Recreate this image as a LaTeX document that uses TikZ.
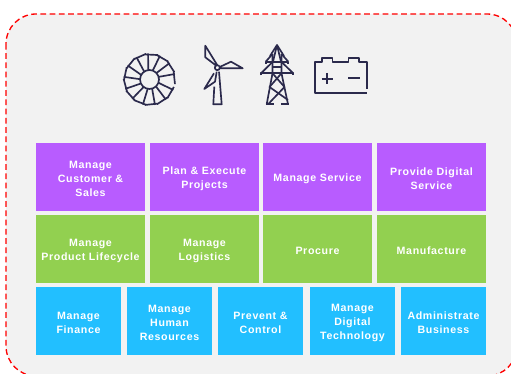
\documentclass[tikz,border=0pt]{standalone}
\usepackage{fontspec}
\setmainfont{Liberation Sans}[LetterSpace=6]
\usepackage{tikz}
\definecolor{panelgray}{HTML}{F2F2F2}
\definecolor{iconnavy}{HTML}{2B2A4C}
\definecolor{purplebox}{HTML}{B85CFF}
\definecolor{greenbox}{HTML}{92D050}
\definecolor{bluebox}{HTML}{22BFFF}
\tikzset{
  captext/.style={text=white,font=\fontsize{6.05}{7.8}\selectfont\bfseries,align=center,inner sep=0pt,yshift=-1.1pt},
  capability/.style={inner sep=0pt,minimum height=1.36cm,label={[captext]center:{#1}}},
  widebox/.style={capability={#1},minimum width=2.18cm},
  narrowbox/.style={capability={#1},minimum width=1.7cm,fill=bluebox},
  icon/.style={draw=iconnavy,line width=0.95pt,line join=round}
}

\begin{document}
\begin{tikzpicture}[x=0.02cm,y=-0.02cm]
\useasboundingbox (0,0) rectangle (511,374);
\clip (0,0) rectangle (511,374);
\draw [red,fill=panelgray,line width=0.75pt,rounded corners=0.6cm,dash pattern=on 0.115cm off 0.07cm] (6,14) rectangle (517,376);
% turbine
\draw [icon] (149.5,79.5) circle (9.5);
\foreach \a in {20,47,...,345} {
  \draw [icon] (149.5,79.5) ++(\a:9.5) -- ++(\a+6:16.5);
  \draw [icon] (149.5,79.5) ++(\a-3:25.5) -- ++(\a+100:13);
}
% wind mill
\draw [icon] (217.3,67.7) circle (2.5);
\draw [icon] (216,65.5) -- (205.3,57.3) -- (205.3,45.7) -- (217.3,65.2);
\draw [icon] (219.7,67) -- (231,61.7) -- (242.7,68.3) -- (219.8,68.3);
\draw [icon] (214,73.3) -- (204.3,89) -- (215,81.7) -- (216.7,71.7);
\draw [icon] (214.3,86.7) -- (213.3,104.3) -- (221.7,104.3) -- (219,71.7);
% pylon
\draw [icon] (273,61.7) -- (277,45) -- (281,61.7);
\draw [icon] (277,45) -- (270,56) (277,45) -- (284,56);
\draw [icon] (265.7,64) -- (265.7,61.7) -- (288.3,61.7) -- (288.3,64);
\draw [icon] (265.7,61.7) -- (272.5,54) (288.3,61.7) -- (281.5,54);
\draw [icon] (261,75.5) -- (261,73.3) -- (293.3,73.3) -- (293.3,75.5);
\draw [icon] (261,73.3) -- (272.5,62) (293.3,73.3) -- (281.5,62);
\draw [icon] (272.5,54) -- (272.5,73.3) -- (266.7,104.3) (281.5,54) -- (281.5,73.3) -- (288,104.3);
\draw [icon] (272.5,66.7) -- (281.5,66.7) (266,104.3) -- (274,104.3) (281,104.3) -- (289,104.3);
\draw [icon] (272.5,73.3) -- (284.5,87) -- (268,104.3);
\draw [icon] (281.5,73.3) -- (269.5,87) -- (288,100);
% battery
\draw [icon] (366.7,89) -- (366.7,62.3) -- (359,62.3) -- (359,58.3) -- (348.5,58.3) -- (348.5,62.3) -- (332.5,62.3) -- (332.5,58.3) -- (322.3,58.3) -- (322.3,62.3) -- (315,62.3) -- (315,93.3) -- (367,93.3);
\draw [icon] (321.5,78.7) -- (333,78.7) (327.3,73) -- (327.3,84.3) (348,78.3) -- (360,78.3);
% top row
\node [widebox={Manage\\Customer \&\\Sales},fill=purplebox] (customer) at (90.5,177) {};
\node [widebox={Plan \& Execute\\Projects},fill=purplebox] (projects) at (204.5,177) {};
\node [widebox={Manage Service},fill=purplebox] (service) at (317.5,177) {};
\node [widebox={Provide Digital\\Service},fill=purplebox] (digitalservice) at (431.5,177) {};
% middle row
\node [widebox={Manage\\Product Lifecycle},fill=greenbox] (lifecycle) at (90.5,249) {};
\node [widebox={Manage\\Logistics},fill=greenbox] (logistics) at (204.5,249) {};
\node [widebox={Procure},fill=greenbox] (procure) at (317.5,249) {};
\node [widebox={Manufacture},fill=greenbox] (manufacture) at (431.5,249) {};
% bottom row
\node [narrowbox={Manage\\Finance}] (finance) at (78.5,321) {};
\node [narrowbox={Manage\\Human\\Resources}] (human) at (169.5,321) {};
\node [narrowbox={Prevent \&\\Control}] (prevent) at (260.5,321) {};
\node [narrowbox={Manage\\Digital\\Technology}] (technology) at (352.5,321) {};
\node [narrowbox={Administrate\\Business}] (business) at (443.5,321) {};
\end{tikzpicture}
\end{document}
